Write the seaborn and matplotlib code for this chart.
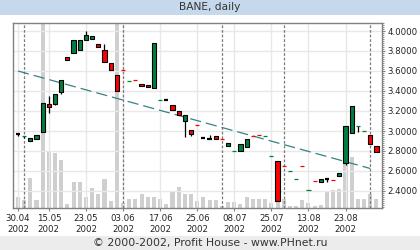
import matplotlib
matplotlib.use("Agg")
import matplotlib.pyplot as plt
from matplotlib.patches import Rectangle
from matplotlib.ticker import MultipleLocator, FormatStrFormatter, FixedLocator
import numpy as np
import pandas as pd
import seaborn as sns

sns.set_theme(style="white")
plt.rcParams['font.family'] = ['DejaVu Sans']

# ---------------- data ----------------
days = list(range(59))
opens = [2.97, 2.95, 2.90, 2.92, 2.99, 3.27, 3.27, 3.39, 3.74, 3.78,
         3.81, 3.91, 3.92, 3.87, 3.81, 3.68, 3.56, 3.61, 3.50, 3.51,
         3.47, 3.46, 3.43, 3.31, 3.31, 3.26, 3.20, 3.10, 3.01, 3.06,
         2.93, 2.92, 2.95, 2.92, 2.85, 2.80, 2.80, 2.84, 2.95, 2.96,
         2.95, 2.75, 2.70, 2.65, 2.60, 2.52, 2.65, 2.41, 2.50, 2.49,
         2.52, 2.51, 2.55, 2.68, 2.98, 3.05, 3.00, 2.96, 2.85]
closes = [2.97, 2.95, 2.93, 2.96, 3.28, 3.24, 3.37, 3.51, 3.71, 3.91,
          3.91, 3.96, 3.95, 3.84, 3.69, 3.61, 3.40, 3.61, 3.50, 3.51,
          3.45, 3.44, 3.88, 3.31, 3.31, 3.21, 3.16, 3.16, 2.97, 3.06,
          2.93, 2.92, 2.92, 2.92, 2.88, 2.80, 2.87, 2.92, 2.95, 2.96,
          2.95, 2.75, 2.30, 2.65, 2.60, 2.52, 2.65, 2.41, 2.50, 2.52,
          2.52, 2.51, 2.58, 3.05, 3.25, 3.05, 3.00, 2.87, 2.79]
highs = [2.97, 2.95, 2.93, 2.96, 3.28, 3.35, 3.37, 3.51, 3.74, 3.91,
         3.91, 4.00, 3.95, 3.87, 3.87, 3.68, 3.56, 3.61, 3.50, 3.51,
         3.47, 3.46, 3.88, 3.31, 3.31, 3.26, 3.20, 3.16, 3.01, 3.06,
         2.93, 2.96, 2.95, 2.92, 2.88, 2.80, 2.87, 2.92, 2.95, 2.96,
         2.95, 2.75, 2.70, 2.65, 2.60, 2.52, 2.65, 2.41, 2.50, 2.52,
         2.52, 2.51, 2.58, 3.05, 3.25, 3.05, 3.00, 2.96, 2.85]
lows = [2.95, 2.93, 2.90, 2.92, 2.99, 3.18, 3.26, 3.37, 3.71, 3.78,
        3.81, 3.91, 3.92, 3.84, 3.69, 3.61, 3.40, 3.61, 3.50, 3.51,
        3.45, 3.44, 3.43, 3.31, 3.31, 3.21, 3.16, 2.94, 2.95, 3.06,
        2.93, 2.92, 2.92, 2.92, 2.85, 2.80, 2.80, 2.84, 2.95, 2.96,
        2.95, 2.75, 2.30, 2.65, 2.60, 2.52, 2.65, 2.41, 2.50, 2.49,
        2.49, 2.51, 2.55, 2.66, 2.98, 2.99, 3.00, 2.87, 2.79]
marks = ['k', 'g', 'g', 'g', 'g', 'r', 'g', 'g', 'r', 'g',
         'g', 'g', 'g', 'r', 'r', 'r', 'r', 'r', 'g', 'r',
         'r', 'r', 'g', 'g', 'k', 'r', 'r', 'g', 'r', 'r',
         'k', 'k', 'r', 'r', 'g', 'g', 'g', 'g', 'r', 'r',
         'g', 'g', 'r', 'r', 'g', 'g', 'r', 'g', 'r', 'g',
         'k', 'r', 'g', 'g', 'g', 'g', 'g', 'r', 'r']
volumes = [11, 8, 30, 8, 250, 57, 55, 48, 4, 26,
           26, 11, 20, 14, 29, 7, 250, 5, 9, 9,
           14, 11, 11, 9, 4, 16, 21, 14, 14, 7,
           11, 8, 8, 2, 6, 6, 4, 11, 9, 9,
           9, 5, 6, 9, 2, 2, 8, 5, 2, 3,
           16, 18, 19, 48, 51, 9, 9, 14, 9]
tick_days = [0, 5, 11, 17, 23, 29, 35, 41, 47, 53]
tick_labels = ['30.04\n2002', '15.05\n2002', '23.05\n2002', '03.06\n2002',
               '17.06\n2002', '25.06\n2002', '08.07\n2002', '25.07\n2002',
               '13.08\n2002', '23.08\n2002']
month_start_days = [1, 17, 33, 43, 57]
trend_days = [0, 57]
trend_prices = [3.60, 2.625]

GREEN = '#008040'
RED = '#ff0000'
COLORS = {'g': GREEN, 'r': RED, 'k': 'black'}
FRAME = '#808080'

W, H = 420, 250
fig = plt.figure(figsize=(W / 100, H / 100), dpi=100)
fig.patch.set_facecolor('white')

# title / footer bands
fig.patches.append(Rectangle((0, 1 - 15 / H), 1, 15 / H, transform=fig.transFigure,
                             facecolor='#c6d9ec', edgecolor='none', zorder=0))
fig.patches.append(Rectangle((0, 0), 1, 14 / H, transform=fig.transFigure,
                             facecolor='#ececec', edgecolor='none', zorder=0))
fig.text(0.5, 1 - 7.5 / H, 'BANE, daily', ha='center', va='center',
         fontsize=7.7, color='#333333')
fig.text(0.5, 7 / H, '\u00a9 2000-2002, Profit House - www.PHnet.ru', ha='center',
         va='center', fontsize=7.8, color='#333333')

rect = [13 / W, 1 - 208 / H, 369 / W, 185 / H]
XLIM = (-0.8, 58.9)

# volume axes (behind)
ax_vol = fig.add_axes(rect, zorder=1)
df_vol = pd.DataFrame({'day': days, 'volume': volumes})
sns.barplot(data=df_vol, x='day', y='volume', native_scale=True, color='#cfcfcf',
            saturation=1, width=0.66, errorbar=None, ax=ax_vol, linewidth=0)
ax_vol.set_xlim(*XLIM)
ax_vol.set_ylim(0, 185)
ax_vol.set_xlabel('')
ax_vol.set_ylabel('')
ax_vol.set_xticks([])
ax_vol.set_yticks([])
for s in ax_vol.spines.values():
    s.set_visible(False)
ax_vol.set_facecolor('white')

# price axes (front)
ax = fig.add_axes(rect, zorder=2)
ax.patch.set_alpha(0)
ax.set_xlim(*XLIM)
ax.set_ylim(2.23, 4.08)

ax.grid(True, color='#e8e8e8', lw=1, zorder=0)
ax.set_axisbelow(True)

for d in month_start_days:
    ax.axvline(d, color='#7a7a7a', lw=0.9, ls=(0, (2.2, 1.5)), zorder=1)

df_tr = pd.DataFrame({'day': trend_days, 'price': trend_prices})
sns.lineplot(data=df_tr, x='day', y='price', ax=ax, color='#358383', lw=0.9,
             zorder=2)
ax.lines[-1].set_linestyle((0, (9, 4)))

o = np.array(opens); c = np.array(closes)
hi = np.array(highs); lo = np.array(lows)
x = np.array(days)

ax.vlines(x, lo, hi, colors='black', lw=0.9, zorder=3)

body = o != c
for i in np.where(body)[0]:
    ax.bar(x[i], c[i] - o[i], bottom=o[i], width=0.68, color=COLORS[marks[i]],
           edgecolor='black', lw=0.8, zorder=4)
for i in np.where(~body)[0]:
    m = marks[i]
    ax.hlines(o[i], x[i] - 0.34, x[i] + 0.34, colors=COLORS[m],
              lw=1.6 if m == 'k' else 0.9, zorder=4)

ax.set_xlabel('')
ax.set_ylabel('')
ax.yaxis.tick_right()
ax.yaxis.set_major_locator(MultipleLocator(0.2))
ax.yaxis.set_minor_locator(MultipleLocator(0.02))
ax.yaxis.set_major_formatter(FormatStrFormatter('%.4f'))
ax.xaxis.set_major_locator(FixedLocator(tick_days))
ax.set_xticklabels(tick_labels, linespacing=1.35)
ax.tick_params(axis='y', which='major', right=True, left=False, length=2.3, width=0.8,
               color=FRAME, labelsize=6.2, pad=1.8, labelcolor='#222222')
ax.tick_params(axis='y', which='minor', right=True, left=False, length=1.2, width=0.6,
               color=FRAME)
ax.tick_params(axis='x', which='major', bottom=True, length=2.3, width=0.8,
               color=FRAME, labelsize=6.2, pad=1.8, labelcolor='#222222')
for s in ax.spines.values():
    s.set_visible(True)
    s.set_color(FRAME)
    s.set_linewidth(1.0)

fig.savefig('out.png', dpi=100, facecolor='white')
